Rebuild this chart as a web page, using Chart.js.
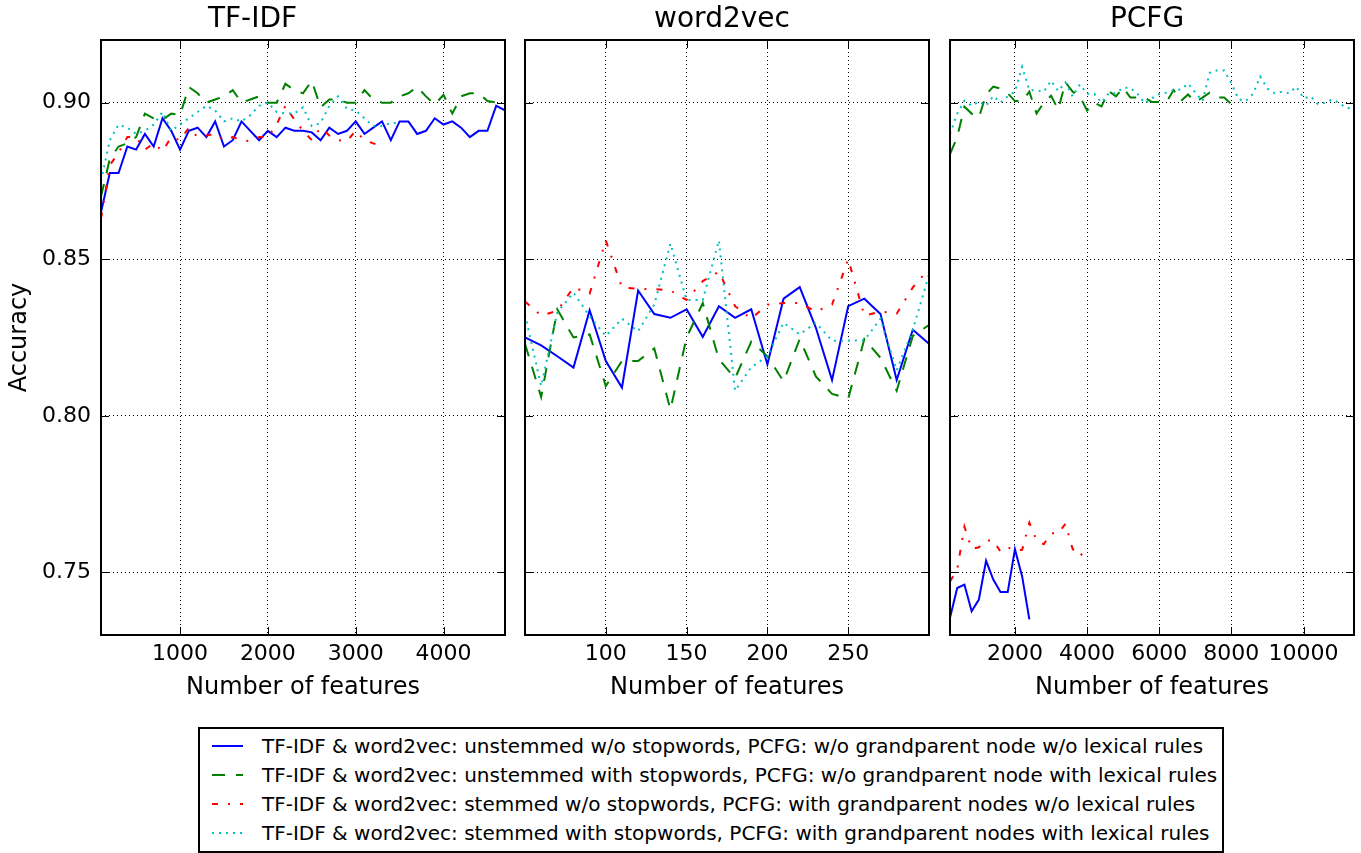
<!DOCTYPE html>
<html>
<head>
<meta charset="utf-8">
<script src="https://cdn.jsdelivr.net/npm/chart.js@4.4.0/dist/chart.umd.min.js"></script>
<style>
  html, body { margin:0; padding:0; background:#fff; width:1361px; height:853px; overflow:hidden; font-family:"DejaVu Sans", sans-serif; }
  canvas { position:absolute; top:0; }
  #legend { position:absolute; left:198px; top:727px; width:1026px; height:126px; border:2px solid #000; box-sizing:border-box; background:#fff; }
  .row { position:absolute; left:0; height:30px; line-height:30px; font-size:20px; color:#000; white-space:nowrap; }
  .row svg { position:absolute; left:12px; top:0; }
  .row span { position:absolute; left:62px; top:0; }
</style>
</head>
<body>
<canvas id="c1" width="515" height="710" style="left:0px"></canvas>
<canvas id="c2" width="424" height="710" style="left:515px"></canvas>
<canvas id="c3" width="421" height="710" style="left:940px"></canvas>
<div id="legend"></div>
<script>
// ---------------- DATA ----------------
const seriesLabels = [
  'TF-IDF & word2vec: unstemmed w/o stopwords, PCFG: w/o grandparent node w/o lexical rules',
  'TF-IDF & word2vec: unstemmed with stopwords, PCFG: w/o grandparent node with lexical rules',
  'TF-IDF & word2vec: stemmed w/o stopwords, PCFG: with grandparent nodes w/o lexical rules',
  'TF-IDF & word2vec: stemmed with stopwords, PCFG: with grandparent nodes with lexical rules'
];
const panelTitles = ['TF-IDF', 'word2vec', 'PCFG'];
const xAxisTitle = 'Number of features';
const yAxisTitle = 'Accuracy';
const yTicks = [0.75, 0.80, 0.85, 0.90];

// TF-IDF
const tfidfX = [100,200,300,400,500,600,700,800,900,1000,1100,1200,1300,1400,1500,1600,1700,1800,1900,2000,
  2100,2200,2300,2400,2500,2600,2700,2800,2900,3000,3100,3200,3300,3400,3500,3600,3700,3800,3900,4000,
  4100,4200,4300,4400,4500,4600,4700];
const tfidfTicks = [1000, 2000, 3000, 4000];
const tfidfBlue = [0.865,0.8775,0.8775,0.886,0.885,0.890,0.886,0.895,0.891,0.885,
  0.891,0.892,0.889,0.894,0.886,0.888,0.894,0.891,0.888,0.891,
  0.889,0.892,0.891,0.891,0.8905,0.888,0.892,0.890,0.891,0.894,
  0.890,0.892,0.894,0.888,0.894,0.894,0.890,0.891,0.895,0.893,
  0.894,0.892,0.889,0.891,0.891,0.899,0.8975];
const tfidfGreen = [0.870,0.882,0.886,0.887,0.889,0.8965,0.895,0.8945,0.8965,0.896,
  0.905,0.903,0.900,0.901,0.902,0.904,0.900,0.901,0.902,0.900,
  0.900,0.906,0.904,0.903,0.907,0.8985,0.901,0.901,0.900,0.900,
  0.904,0.901,0.900,0.900,0.902,0.903,0.905,0.902,0.8994,0.9025,
  0.8965,0.902,0.903,0.903,0.9005,0.900,0.898];
const tfidfRed = [0.863,0.880,0.884,0.889,0.889,0.885,0.887,0.8845,0.889,0.888,
  0.892,0.889,0.8895,0.890,0.888,0.889,0.888,0.8877,0.889,0.889,
  0.893,0.899,0.8946,0.891,0.888,0.892,0.8895,0.888,0.8877,0.891,
  0.888,0.887,0.886];
const tfidfCyan = [0.875,0.888,0.893,0.892,0.890,0.891,0.893,0.897,0.891,0.893,
  0.895,0.897,0.899,0.8975,0.894,0.895,0.894,0.896,0.899,0.900,
  0.897,0.8965,0.8965,0.8985,0.8925,0.8935,0.899,0.902,0.898,0.8975,
  0.895,0.8925,0.8925,0.8935,0.8935];

// word2vec
const w2vX = [50,60,70,80,90,100,110,120,130,140,150,160,170,180,190,200,210,220,230,240,250,260,270,280,290,300];
const w2vTicks = [100, 150, 200, 250];
const w2vBlue = [0.825,0.8225,0.819,0.8154,0.8337,0.8175,0.809,0.840,0.8325,0.8313,
  0.834,0.8252,0.835,0.8313,0.834,0.8164,0.8374,0.8411,0.8281,0.8114,
  0.835,0.8374,0.8325,0.8114,0.8275,0.823];
const w2vGreen = [0.823,0.806,0.834,0.825,0.826,0.8095,0.8175,0.8175,0.8215,0.802,
  0.825,0.836,0.818,0.812,0.8237,0.819,0.811,0.8245,0.8126,0.807,
  0.8055,0.8245,0.8185,0.808,0.8255,0.829];
const w2vRed = [0.8365,0.832,0.8335,0.841,0.839,0.856,0.841,0.8405,0.8405,0.840,
  0.837,0.843,0.846,0.835,0.831,0.8355,0.836,0.836,0.8333,0.8355,
  0.850,0.832,0.8333,0.8326,0.841,0.847];
const w2vCyan = [0.8323,0.8095,0.833,0.8393,0.8318,0.8255,0.831,0.827,0.8355,0.855,
  0.837,0.837,0.856,0.808,0.8155,0.819,0.8297,0.826,0.8297,0.824,
  0.824,0.8241,0.831,0.8145,0.8275,0.845];

// PCFG
const pcfgX = [200,400,600,800,1000,1200,1400,1600,1800,2000,2200,2400,2600,2800,3000,3200,3400,3600,3800,4000,
  4200,4400,4600,4800,5000,5200,5400,5600,5800,6000,6200,6400,6600,6800,7000,7200,7400,7600,7800,8000,
  8200,8400,8600,8800,9000,9200,9400,9600,9800,10000,10200,10400,10600,10800,11000,11200,11400];
const pcfgTicks = [2000, 4000, 6000, 8000, 10000];
const pcfgBlue = [0.7355,0.745,0.7461,0.7376,0.7413,0.7537,0.7477,0.7437,0.7437,0.7574,0.7487,0.735];
const pcfgGreen = [0.8836,0.889,0.8987,0.8965,0.8952,0.9026,0.9051,0.9045,0.903,0.9005,
  0.9005,0.9035,0.8965,0.900,0.9022,0.8978,0.9065,0.9035,0.902,0.8975,
  0.900,0.8988,0.9037,0.902,0.9048,0.9016,0.9016,0.9016,0.9002,0.9002,
  0.9002,0.904,0.9005,0.9026,0.9002,0.9016,0.9032,0.9016,0.9016,0.8995];
const pcfgRed = [0.7471,0.7509,0.7646,0.7575,0.758,0.7602,0.7602,0.7566,0.758,0.757,
  0.7572,0.7659,0.7602,0.759,0.7625,0.7625,0.7655,0.7575,0.7551,0.758];
const pcfgCyan = [0.890,0.8965,0.9006,0.899,0.9003,0.899,0.9021,0.900,0.902,0.9035,
  0.9114,0.904,0.9039,0.9035,0.907,0.9037,0.9065,0.902,0.9058,0.9028,
  0.9028,0.900,0.903,0.903,0.9048,0.9047,0.9028,0.8998,0.9014,0.9028,
  0.9032,0.904,0.9042,0.9061,0.9032,0.9005,0.9095,0.9103,0.9103,0.9061,
  0.9011,0.9005,0.9028,0.9083,0.9045,0.903,0.9035,0.903,0.9051,0.9014,
  0.902,0.8995,0.900,0.901,0.8998,0.8982,0.8985];

// ---------------- STYLE ----------------
const FONT = 'DejaVu Sans';
const seriesColors = ['#0000ff', '#008000', '#ff0000', '#00bfbf'];
const seriesDash = [[], [13, 11], [6, 10, 2, 10], [2, 5]];

const framePlugin = {
  id: 'frame',
  afterDraw(chart) {
    const { ctx, chartArea: a, scales } = chart;
    const x = scales.x, y = scales.y;
    ctx.save();
    ctx.strokeStyle = '#000';
    ctx.lineWidth = 1;
    ctx.setLineDash([]);
    ctx.beginPath();
    x.ticks.forEach(t => {
      const px = Math.round(x.getPixelForValue(t.value)) + 0.5;
      ctx.moveTo(px, a.bottom); ctx.lineTo(px, a.bottom - 8);
      ctx.moveTo(px, a.top); ctx.lineTo(px, a.top + 8);
    });
    y.ticks.forEach(t => {
      const py = Math.round(y.getPixelForValue(t.value)) + 0.5;
      ctx.moveTo(a.left, py); ctx.lineTo(a.left + 8, py);
      ctx.moveTo(a.right, py); ctx.lineTo(a.right - 8, py);
    });
    ctx.stroke();
    ctx.lineWidth = 2;
    ctx.strokeRect(a.left, a.top, a.right - a.left, a.bottom - a.top);
    ctx.restore();
  }
};

function makeDatasets(xs, seriesList) {
  return seriesList.map((ys, i) => ({
    label: seriesLabels[i],
    data: ys.map((v, k) => ({ x: xs[k], y: v })),
    borderColor: seriesColors[i],
    backgroundColor: seriesColors[i],
    borderWidth: 2,
    borderDash: seriesDash[i],
    borderCapStyle: 'butt',
    pointRadius: 0,
    tension: 0,
    fill: false,
    order: 4 - i
  }));
}

function makePanel(canvasId, title, xs, seriesList, xMin, xMax, xTicks, showY, yWidth, padRight) {
  return new Chart(document.getElementById(canvasId), {
    type: 'line',
    data: { datasets: makeDatasets(xs, seriesList) },
    options: {
      responsive: false,
      animation: false,
      events: [],
      layout: { padding: { left: 0, right: padRight, top: 0, bottom: 0 } },
      plugins: {
        legend: { display: false },
        tooltip: { enabled: false },
        title: {
          display: true, text: title, color: '#000',
          font: { family: FONT, size: 28, weight: 'normal', lineHeight: '32px' },
          padding: { top: 4, bottom: 4 }
        }
      },
      scales: {
        x: {
          type: 'linear', min: xMin, max: xMax,
          afterBuildTicks: s => { s.ticks = xTicks.map(v => ({ value: v })); },
          afterFit: s => { s.height = 75; },
          ticks: { autoSkip: false, maxRotation: 0, minRotation: 0, color: '#000',
                   font: { family: FONT, size: 22 }, padding: 6, callback: v => String(v) },
          grid: { color: '#000', lineWidth: 1, drawTicks: false },
          border: { display: false, dash: [1, 3] },
          title: { display: true, text: xAxisTitle, color: '#000',
                   font: { family: FONT, size: 24 }, padding: { top: 0, bottom: 8 } }
        },
        y: {
          type: 'linear', min: 0.73, max: 0.92,
          afterBuildTicks: s => { s.ticks = yTicks.map(v => ({ value: v })); },
          afterFit: s => { s.width = yWidth; },
          ticks: { display: showY, color: '#000', font: { family: FONT, size: 22 }, padding: 10,
                   callback: v => Number(v).toFixed(2) },
          grid: { color: '#000', lineWidth: 1, drawTicks: false },
          border: { display: false, dash: [1, 3] },
          title: { display: showY, text: yAxisTitle, color: '#000',
                   font: { family: FONT, size: 24 }, padding: { top: 5, bottom: 0 } }
        }
      }
    },
    plugins: [framePlugin]
  });
}

makePanel('c1', panelTitles[0], tfidfX, [tfidfBlue, tfidfGreen, tfidfRed, tfidfCyan], 100, 4700, tfidfTicks, true, 101, 10);
makePanel('c2', panelTitles[1], w2vX, [w2vBlue, w2vGreen, w2vRed, w2vCyan], 50, 300, w2vTicks, false, 10, 10);
makePanel('c3', panelTitles[2], pcfgX, [pcfgBlue, pcfgGreen, pcfgRed, pcfgCyan], 200, 11400, pcfgTicks, false, 10, 7);

// ---------------- LEGEND ----------------
const legend = document.getElementById('legend');
const rowCenters = [17, 46, 75, 104];
seriesLabels.forEach((lab, i) => {
  const row = document.createElement('div');
  row.className = 'row';
  row.style.top = (rowCenters[i] - 15) + 'px';
  const dash = seriesDash[i].length ? seriesDash[i].join(' ') : 'none';
  row.innerHTML = '<svg width="34" height="30"><line x1="0" y1="15" x2="31" y2="15" stroke="' + seriesColors[i] +
    '" stroke-width="2" stroke-dasharray="' + dash + '"/></svg>';
  const sp = document.createElement('span');
  sp.textContent = lab;
  row.appendChild(sp);
  legend.appendChild(row);
});
</script>
</body>
</html>
